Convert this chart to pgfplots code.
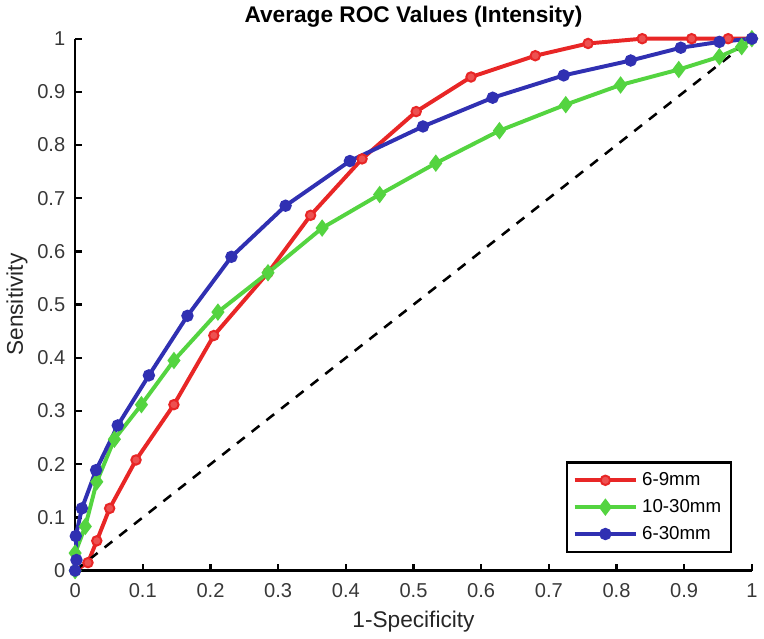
\documentclass[border=0pt]{standalone}
\usepackage{fontspec}
\setmainfont{Liberation Sans}
\usepackage{pgfplots}
\pgfplotsset{compat=1.18}
\definecolor{rocred}{RGB}{232,38,38}
\definecolor{rocgreen}{RGB}{84,212,64}
\definecolor{rocblue}{RGB}{48,48,178}
\begin{document}
\begin{tikzpicture}
\begin{axis}[
  scale only axis, width=343.5pt, height=270pt,
  xmin=0, xmax=1, ymin=0, ymax=1,
  axis lines=left, axis line style={-, line width=1.4pt},
  tick align=inside, major tick length=3.5pt,
  tick style={line width=1.2pt, black},
  xtick={0,0.1,...,1}, ytick={0,0.1,...,1},
  xticklabels={0,0.1,0.2,0.3,0.4,0.5,0.6,0.7,0.8,0.9,1},
  yticklabels={0,0.1,0.2,0.3,0.4,0.5,0.6,0.7,0.8,0.9,1},
  ticklabel style={font=\fontsize{10.2}{12}\selectfont, text=black!78},
  xticklabel style={yshift=-3pt}, yticklabel style={xshift=-1.5pt},
  /pgf/number format/assume math mode=true,
  title={\textbf{Average ROC Values (Intensity)}},
  title style={font=\fontsize{11.5}{13}\selectfont, yshift=-4pt},
  xlabel={1-Specificity}, ylabel={Sensitivity},
  label style={font=\fontsize{11.5}{13}\selectfont, text=black!85},
  xlabel style={yshift=0pt}, ylabel style={yshift=-2pt},
  clip=false,
  legend style={at={(0.971,0.033)}, anchor=south east, draw=black, line width=1.2pt,
    font=\fontsize{9.5}{11}\selectfont, inner sep=3pt, row sep=1.5pt},
  legend cell align=left,
  legend image code/.code={\draw[#1] (0cm,0cm) -- (0.55cm,0cm) -- (1.1cm,0cm); \draw[#1, mark repeat=1] plot coordinates {(0.55cm,0cm)};},
]
\addplot[rocred, line width=2pt, mark=*, mark size=2.4pt, mark options={fill=rocred!80!white, line width=1pt}]
coordinates {(0,0) (0.019,0.015) (0.032,0.056) (0.051,0.117) (0.090,0.208) (0.146,0.312) (0.205,0.442) (0.285,0.560) (0.348,0.668) (0.424,0.774) (0.504,0.863) (0.585,0.928) (0.680,0.968) (0.758,0.991) (0.838,1.0) (0.911,1.0) (0.965,1.0) (1,1)};
\addlegendentry{6-9mm}
\addplot[rocgreen, line width=2pt, mark=diamond*, mark size=2.8pt, mark options={fill=rocgreen}]
coordinates {(0,0) (0,0.033) (0.015,0.083) (0.032,0.167) (0.058,0.247) (0.098,0.312) (0.146,0.395) (0.211,0.486) (0.285,0.560) (0.365,0.644) (0.450,0.707) (0.533,0.766) (0.627,0.827) (0.725,0.876) (0.806,0.913) (0.892,0.942) (0.952,0.966) (0.985,0.985) (1,1)};
\addlegendentry{10-30mm}
\addplot[rocblue, line width=2pt, mark=*, mark size=2.1pt, mark options={fill=rocblue}]
coordinates {(0,0) (0.002,0.020) (0.001,0.065) (0.010,0.117) (0.031,0.189) (0.063,0.273) (0.109,0.367) (0.166,0.479) (0.231,0.590) (0.311,0.686) (0.406,0.770) (0.514,0.835) (0.617,0.889) (0.722,0.931) (0.821,0.959) (0.895,0.983) (0.952,0.994) (1,1)};
\addlegendentry{6-30mm}
\addplot[black, line width=1.3pt, dash pattern=on 5pt off 4.5pt, forget plot] coordinates {(0,0) (1,1)};
\end{axis}
\end{tikzpicture}
\end{document}
